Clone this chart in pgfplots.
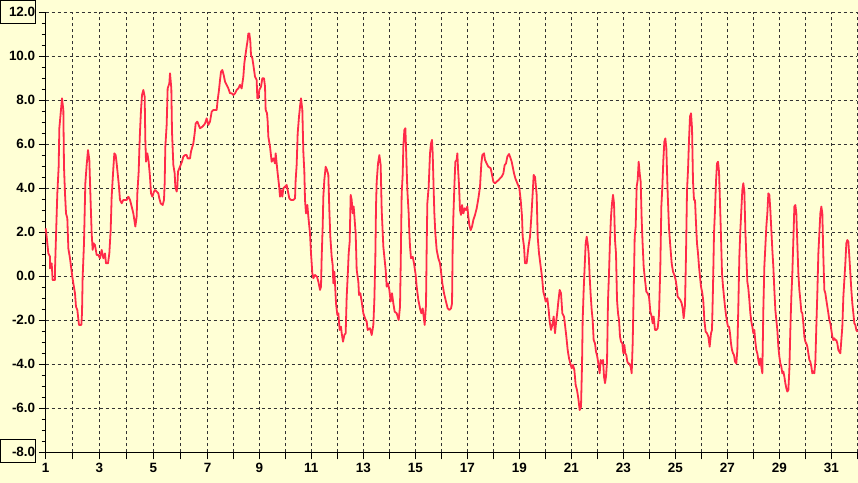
\documentclass[border=0pt]{standalone}
\usepackage{fontspec}
\setmainfont{Liberation Sans}
\usepackage{pgfplots}
\pgfplotsset{compat=1.18}
\definecolor{bgyellow}{HTML}{FFFFD5}
\definecolor{linered}{HTML}{FF2A48}
\definecolor{gridgray}{HTML}{333333}
\begin{document}
\begin{tikzpicture}
\useasboundingbox (-45.7bp,-30.7bp) rectangle (812.3bp,452.3bp);
\fill[bgyellow] (-45.7bp,-30.7bp) rectangle (812.3bp,452.3bp);
\begin{axis}[
  at={(0,0)}, anchor=south west,
  width=811.6bp, height=440bp, scale only axis,
  xmin=1, xmax=32.004, ymin=-8, ymax=12,
  axis x line=bottom, axis y line=left,
  axis line style={line width=1.5bp, -, black},
  xtick={1,2.016,3.048,4.079,5.110,6.142,7.181,8.167,9.160,10.153,11.146,12.139,13.133,14.126,15.119,16.112,17.106,18.099,19.092,20.085,21.078,22.072,23.065,24.058,25.052,26.045,27.038,28.031,29.025,30.018,31.011,32.004},
  xticklabels={1,,3,,5,,7,,9,,11,,13,,15,,17,,19,,21,,23,,25,,27,,29,,31,},
  ytick={-8,-6,-4,-2,0,2,4,6,8,10,12},
  yticklabels={-8.0,-6.0,-4.0,-2.0,0.0,2.0,4.0,6.0,8.0,10.0,12.0},
  minor y tick num=3,
  tick align=outside,
  major tick length=7bp, minor tick length=4bp,
  tick style={black, line width=1bp},
  grid=major,
  major grid style={gridgray, dash pattern=on 3bp off 3bp, line width=1bp},
  ticklabel style={font=\fontsize{13.5}{16}\selectfont\bfseries},
  clip=false,
]
\addplot[linered, line width=1.8bp, line join=round, no markers] coordinates {
(1.000,2.18) (1.037,1.80) (1.101,1.04) (1.164,0.89) (1.164,0.36) (1.228,0.59) (1.266,-0.17) (1.355,-0.17) (1.355,0.29) (1.393,1.80) (1.444,3.77) (1.495,4.98) (1.521,6.73) (1.572,7.41) (1.623,8.09) (1.674,7.56) (1.699,4.98) (1.737,3.77) (1.776,2.86) (1.826,2.64) (1.865,1.27) (1.928,0.82) (1.967,0.44) (2.017,-0.02) (2.056,-0.32) (2.119,-0.77) (2.157,-1.38) (2.208,-1.53) (2.272,-2.21) (2.361,-2.21) (2.387,-1.68) (2.412,-0.02) (2.463,1.50) (2.514,4.23) (2.565,5.06) (2.616,5.74) (2.667,5.29) (2.718,3.32) (2.756,1.95) (2.794,1.20) (2.832,1.50) (2.883,1.42) (2.947,0.97) (3.011,0.97) (3.074,0.82) (3.138,1.20) (3.202,0.82) (3.265,1.04) (3.304,0.59) (3.380,0.59) (3.431,1.04) (3.482,2.10) (3.520,3.62) (3.584,4.91) (3.622,5.59) (3.673,5.51) (3.711,5.13) (3.762,4.53) (3.788,4.23) (3.838,3.47) (3.902,3.32) (3.966,3.47) (4.029,3.47) (4.093,3.47) (4.157,3.62) (4.221,3.47) (4.284,3.17) (4.348,2.86) (4.386,2.56) (4.424,2.26) (4.475,2.71) (4.501,3.77) (4.552,4.76) (4.577,5.74) (4.602,6.57) (4.641,7.56) (4.679,8.24) (4.730,8.47) (4.781,8.17) (4.806,6.20) (4.832,5.21) (4.883,5.59) (4.933,5.21) (4.984,4.53) (5.023,3.77) (5.074,3.62) (5.137,3.85) (5.176,3.92) (5.239,3.85) (5.303,3.77) (5.341,3.54) (5.392,3.32) (5.468,3.24) (5.519,3.47) (5.545,4.23) (5.570,5.89) (5.621,6.88) (5.659,8.54) (5.723,8.77) (5.749,9.23) (5.799,8.54) (5.825,6.57) (5.876,5.06) (5.927,4.68) (5.952,4.07) (6.003,3.85) (6.029,4.07) (6.054,4.76) (6.105,4.91) (6.156,5.06) (6.207,5.21) (6.258,5.44) (6.322,5.51) (6.385,5.51) (6.424,5.36) (6.513,5.36) (6.551,5.67) (6.602,5.89) (6.640,6.04) (6.691,6.50) (6.729,6.95) (6.793,7.03) (6.844,6.88) (6.895,6.73) (6.984,6.80) (7.047,6.88)
(7.086,6.95) (7.149,7.18) (7.213,6.88) (7.277,7.03) (7.340,7.48) (7.404,7.56) (7.531,7.56) (7.569,8.01) (7.620,8.47) (7.659,8.92) (7.697,9.30) (7.748,9.38) (7.799,9.15) (7.850,8.85) (7.913,8.70) (7.977,8.54) (8.041,8.32) (8.104,8.32) (8.168,8.24) (8.232,8.32) (8.295,8.47) (8.359,8.54) (8.423,8.70) (8.486,8.54) (8.550,9.07) (8.588,9.68) (8.639,10.13) (8.677,10.44) (8.715,10.74) (8.741,11.04) (8.779,11.04) (8.817,10.67) (8.843,10.06) (8.894,9.91) (8.932,9.61) (8.996,9.07) (9.059,8.92) (9.085,8.09) (9.123,8.09) (9.161,8.47) (9.225,8.62) (9.276,9.00) (9.340,9.00) (9.378,8.62) (9.403,7.56) (9.454,7.41) (9.480,7.03) (9.505,6.35) (9.569,5.89) (9.632,5.21) (9.696,5.36) (9.760,5.13) (9.785,5.59) (9.823,5.13) (9.861,4.68) (9.912,4.15) (9.951,3.62) (9.989,3.92) (10.040,3.62) (10.078,4.00) (10.142,4.07) (10.205,4.15) (10.269,3.77) (10.307,3.54) (10.371,3.47) (10.460,3.47) (10.524,3.54) (10.549,4.38) (10.587,5.06) (10.626,6.50) (10.677,7.26) (10.715,7.71) (10.753,8.09) (10.804,7.56) (10.842,5.67) (10.880,4.76) (10.906,3.47) (10.944,2.86) (10.995,3.24) (11.033,2.71) (11.097,1.95) (11.135,1.04) (11.186,0.14) (11.224,-0.09) (11.288,0.06) (11.364,-0.02) (11.415,-0.24) (11.479,-0.62) (11.517,-0.47) (11.543,0.89) (11.581,2.26) (11.606,3.62) (11.644,4.38) (11.695,4.98) (11.746,4.83) (11.797,4.61) (11.835,3.01) (11.873,1.80) (11.924,0.89) (11.963,0.51) (11.988,-0.32) (12.026,0.21) (12.052,-0.32) (12.090,-1.23) (12.141,-1.76) (12.179,-1.68) (12.230,-2.44) (12.281,-2.29) (12.307,-2.59) (12.358,-2.97) (12.408,-2.67) (12.459,-2.59) (12.498,-0.93) (12.536,-0.02) (12.574,1.04) (12.612,1.57) (12.650,3.70) (12.689,3.47) (12.727,2.86) (12.765,3.17) (12.803,2.56) (12.841,1.95) (12.880,0.29) (12.943,-0.24) (12.969,-0.85) (13.020,-0.77) (13.071,-1.15) (13.134,-1.68) (13.198,-1.91) (13.262,-2.06) (13.300,-2.44) (13.389,-2.36)
(13.453,-2.67) (13.516,-2.21) (13.555,-1.08) (13.593,0.89) (13.618,3.17) (13.644,4.30) (13.695,5.13) (13.746,5.51) (13.796,5.06) (13.835,3.01) (13.898,1.35) (13.949,0.74) (13.987,0.29) (14.026,-0.47) (14.077,-0.32) (14.128,-0.62) (14.178,-1.15) (14.229,-0.77) (14.280,-1.23) (14.331,-1.61) (14.408,-1.68) (14.484,-1.99) (14.535,-1.38) (14.561,0.51) (14.599,3.77) (14.637,4.61) (14.662,5.89) (14.701,6.65) (14.739,6.73) (14.764,5.89) (14.815,3.92) (14.866,2.86) (14.892,1.95) (14.917,1.35) (14.955,0.82) (15.019,0.89) (15.070,0.59) (15.134,0.06) (15.172,-0.47) (15.236,-1.08) (15.299,-1.46) (15.350,-1.68) (15.401,-1.46) (15.439,-1.83) (15.477,-2.21) (15.528,-1.30) (15.554,1.35) (15.579,3.32) (15.630,4.07) (15.681,5.59) (15.719,6.04) (15.757,6.20) (15.783,5.59) (15.821,3.92) (15.847,2.86) (15.885,1.95) (15.936,1.20) (15.999,0.82) (16.063,0.59) (16.101,0.21) (16.152,-0.32) (16.216,-0.77) (16.292,-1.15) (16.356,-1.46) (16.420,-1.53) (16.483,-1.46) (16.522,-1.23) (16.547,1.35) (16.573,2.71) (16.611,4.07) (16.649,5.21) (16.700,5.29) (16.725,5.59) (16.751,4.91) (16.789,4.15) (16.827,3.01) (16.865,2.79) (16.904,3.24) (16.955,2.86) (17.006,3.09) (17.056,3.01) (17.107,3.17) (17.146,2.71) (17.184,2.33) (17.235,2.10) (17.286,2.26) (17.337,2.56) (17.400,2.79) (17.464,3.09) (17.528,3.54) (17.591,4.07) (17.642,5.13) (17.680,5.51) (17.744,5.59) (17.782,5.29) (17.846,5.13) (17.910,4.98) (17.999,4.91) (18.050,4.61) (18.101,4.30) (18.164,4.23) (18.228,4.30) (18.304,4.38) (18.355,4.45) (18.419,4.53) (18.483,4.68) (18.533,5.06) (18.584,5.13) (18.635,5.44) (18.699,5.56) (18.737,5.44) (18.801,5.21) (18.839,4.98) (18.890,4.68) (18.941,4.45) (18.992,4.30) (19.043,4.15) (19.094,4.00) (19.145,3.47) (19.196,2.71) (19.221,1.80) (19.272,1.35) (19.310,0.59) (19.374,0.59) (19.412,1.04) (19.450,1.42) (19.501,1.80) (19.552,2.71) (19.603,3.77) (19.641,4.61) (19.680,4.53)
(19.692,4.53) (19.756,3.70) (19.794,1.80) (19.845,1.04) (19.909,0.44) (19.959,-0.02) (20.010,-0.70) (20.061,-0.93) (20.099,-1.15) (20.163,-1.00) (20.214,-1.53) (20.252,-2.06) (20.303,-2.44) (20.354,-2.21) (20.405,-1.83) (20.456,-2.59) (20.494,-2.14) (20.545,-1.61) (20.583,-1.15) (20.634,-0.62) (20.685,-0.77) (20.736,-1.68) (20.800,-1.83) (20.838,-2.21) (20.889,-2.74) (20.940,-3.35) (20.991,-3.73) (21.042,-3.96) (21.093,-4.18) (21.144,-4.03) (21.195,-4.26) (21.245,-4.94) (21.296,-5.17) (21.347,-5.55) (21.398,-6.08) (21.449,-5.93) (21.488,-4.03) (21.513,-1.99) (21.551,-0.62) (21.589,0.44) (21.628,1.50) (21.666,1.80) (21.704,1.50) (21.742,1.04) (21.780,-0.02) (21.819,-0.85) (21.857,-1.53) (21.895,-1.99) (21.933,-2.90) (21.984,-3.05) (22.022,-3.43) (22.060,-3.58) (22.111,-3.96) (22.162,-4.41) (22.201,-3.80) (22.252,-3.96) (22.290,-3.80) (22.328,-4.56) (22.366,-4.86) (22.404,-4.56) (22.443,-3.88) (22.481,-1.08) (22.519,0.14) (22.557,1.65) (22.595,2.71) (22.634,3.32) (22.672,3.70) (22.710,3.32) (22.748,1.65) (22.786,1.04) (22.825,-1.08) (22.863,-1.68) (22.901,-1.99) (22.939,-2.74) (22.977,-2.97) (23.028,-3.05) (23.066,-3.50) (23.105,-3.12) (23.143,-3.50) (23.181,-3.58) (23.219,-3.88) (23.258,-3.96) (23.296,-3.96) (23.347,-4.11) (23.385,-4.41) (23.423,-3.05) (23.461,-0.77) (23.500,1.80) (23.538,2.26) (23.576,4.07) (23.614,4.38) (23.652,5.21) (23.691,4.68) (23.729,4.30) (23.767,2.56) (23.805,1.42) (23.843,0.44) (23.894,-0.17) (23.945,-0.70) (23.996,-0.77) (24.047,-0.93) (24.098,-1.61) (24.149,-1.83) (24.187,-2.14) (24.225,-1.83) (24.276,-2.44) (24.327,-2.44) (24.378,-2.36) (24.429,-1.76) (24.480,0.51) (24.518,3.17) (24.556,4.07) (24.595,5.29) (24.633,6.12) (24.671,6.27) (24.709,5.82) (24.760,3.77) (24.811,2.18) (24.862,1.35) (24.913,0.59) (24.964,0.21) (25.015,0.06) (25.066,-0.17) (25.104,-0.47) (25.142,-0.93) (25.193,-1.00) (25.244,-1.08) (25.295,-1.23) (25.333,-1.46) (25.371,-1.91) (25.422,-1.30) (25.461,1.04) (25.499,3.92) (25.537,4.83) (25.575,6.20) (25.613,7.26) (25.652,7.41) (25.690,6.73) (25.728,4.30) (25.766,3.47)
(25.804,3.47) (25.842,2.41) (25.880,1.50) (25.919,1.04) (25.957,0.44) (25.995,-0.02) (26.033,-0.47) (26.084,-0.77) (26.122,-1.15) (26.161,-1.99) (26.211,-2.52) (26.262,-2.59) (26.313,-2.74) (26.364,-3.20) (26.415,-2.59) (26.453,-2.44) (26.492,-0.47) (26.530,1.95) (26.568,3.01) (26.606,4.30) (26.644,5.13) (26.683,5.21) (26.721,4.76) (26.759,3.32) (26.797,1.80) (26.835,0.14) (26.874,-0.47) (26.912,-0.93) (26.950,-1.38) (26.988,-1.76) (27.026,-2.06) (27.065,-2.29) (27.103,-2.29) (27.141,-2.59) (27.179,-3.05) (27.217,-3.35) (27.256,-3.50) (27.294,-3.58) (27.332,-3.88) (27.383,-3.96) (27.421,-3.35) (27.459,-1.38) (27.498,0.89) (27.536,2.10) (27.574,3.01) (27.612,3.92) (27.650,4.23) (27.689,3.85) (27.727,2.10) (27.765,0.89) (27.803,-0.24) (27.841,-0.55) (27.880,-1.08) (27.918,-1.68) (27.956,-2.06) (27.994,-2.29) (28.032,-2.59) (28.071,-2.44) (28.109,-2.97) (28.147,-3.35) (28.185,-3.50) (28.223,-3.80) (28.262,-4.03) (28.300,-3.73) (28.338,-4.11) (28.376,-4.41) (28.414,-1.53) (28.453,0.44) (28.491,1.35) (28.529,2.26) (28.567,2.86) (28.605,3.77) (28.644,3.70) (28.682,3.01) (28.720,2.10) (28.758,1.20) (28.796,0.44) (28.835,-0.62) (28.873,-1.53) (28.911,-1.99) (28.949,-2.44) (28.988,-3.20) (29.026,-3.65) (29.064,-3.96) (29.102,-4.11) (29.140,-4.41) (29.179,-4.33) (29.217,-4.56) (29.255,-4.86) (29.293,-5.09) (29.331,-5.24) (29.370,-5.17) (29.408,-4.26) (29.446,-2.44) (29.484,-0.93) (29.522,0.14) (29.561,1.65) (29.599,3.17) (29.637,3.24) (29.675,2.86) (29.713,1.50) (29.752,0.14) (29.790,-0.62) (29.828,-1.08) (29.866,-1.61) (29.904,-1.68) (29.943,-2.14) (29.981,-2.74) (30.019,-2.97) (30.057,-3.05) (30.095,-3.20) (30.134,-3.50) (30.172,-3.80) (30.210,-3.88) (30.248,-4.11) (30.286,-4.41) (30.325,-4.33) (30.363,-4.41) (30.401,-3.88) (30.439,-2.29) (30.477,-0.77) (30.516,1.04) (30.554,1.95) (30.592,2.86) (30.630,3.17) (30.668,2.86) (30.707,0.89) (30.745,-0.62) (30.783,-0.77) (30.821,-1.08) (30.859,-1.38) (30.898,-1.68) (30.936,-1.99) (30.974,-2.14) (31.012,-2.44) (31.050,-2.74) (31.089,-2.90) (31.127,-2.82) (31.165,-2.90) (31.203,-2.90) (31.241,-3.05) (31.280,-3.35) (31.318,-3.43) (31.356,-3.50) (31.394,-2.90) (31.432,-2.29) (31.471,-0.93) (31.509,-0.17) (31.547,0.59) (31.585,1.50) (31.623,1.65) (31.662,1.57) (31.700,0.89) (31.738,0.14) (31.776,-0.62) (31.814,-1.23) (31.853,-1.68) (31.891,-2.14) (31.929,-2.21) (31.967,-2.44) (32.004,-2.52)
};
\end{axis}
\draw[line width=1bp] (-45.2bp,428.3bp) rectangle (-10.2bp,451.8bp);
\draw[line width=1bp] (-45.2bp,-9.7bp) rectangle (-10.2bp,12.8bp);
\end{tikzpicture}
\end{document}
